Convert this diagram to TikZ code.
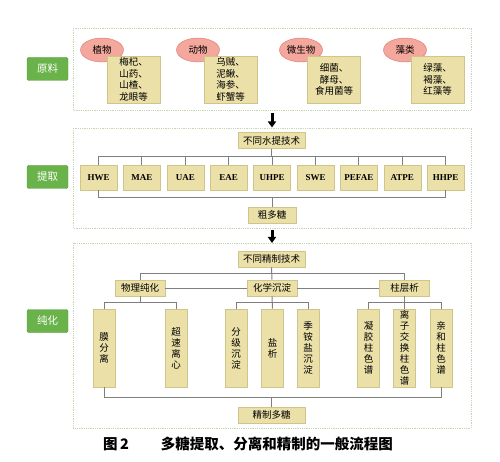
\documentclass[tikz,border=0pt]{standalone}
\usepackage{fontspec}
\setmainfont{Noto Sans CJK SC}
\newfontfamily\latfont{Liberation Serif}
\usetikzlibrary{shapes.geometric}
\usetikzlibrary{arrows.meta}
\definecolor{labgreen}{HTML}{6AB34A}
\definecolor{boxfill}{HTML}{EAE0A8}
\definecolor{boxedge}{HTML}{CFC489}
\definecolor{ovalfill}{HTML}{F4A79C}
\definecolor{ovaledge}{HTML}{D9776A}
\definecolor{framec}{HTML}{C5D6B5}
\definecolor{linec}{HTML}{7F7F7F}

\begin{document}
\begin{tikzpicture}[x=1pt,y=-1pt,
    stage/.style={fill=labgreen, draw=labgreen!85!black, rounded corners=1.5pt, text=white, minimum width=41pt, minimum height=23pt, font=\fontsize{10.5}{12}\selectfont},
    frame/.style={draw=framec, densely dotted, line width=0.8pt},
    ybox/.style={fill=boxfill, draw=boxedge, line width=0.6pt, inner sep=1pt, align=center, font=\fontsize{9.5}{11.5}\selectfont},
    src/.style={ybox, minimum width=53pt, minimum height=47pt},
    tech/.style={ybox, minimum width=37pt, minimum height=25pt, font=\latfont\bfseries\fontsize{9}{10}\selectfont},
    hdr/.style={ybox, minimum width=67pt, minimum height=16pt},
    sub/.style={ybox, minimum width=50pt, minimum height=16pt},
    vbox/.style={ybox, minimum width=22pt, minimum height=78pt, font=\fontsize{9.5}{11}\selectfont},
    oval/.style={ellipse, fill=ovalfill, draw=ovaledge, minimum width=43pt, minimum height=24pt, inner sep=0pt, font=\fontsize{9.5}{11}\selectfont},
    bus/.style={draw=linec, line width=1pt},
    down/.style={-{Triangle[length=6pt,width=8pt]}, line width=3pt}]
  \useasboundingbox (0,0) rectangle (500,462);

  % Raw materials
  \draw[frame] (73,28) rectangle (471,110);
  \node[stage] (raw) at (47.5,69) {原料};
  \node[oval] (plant) at (102,50) {植物};
  \node[oval] (animal) at (198,50) {动物};
  \node[oval] (microbe) at (301,50) {微生物};
  \node[oval] (algae) at (405,50) {藻类};
  \node[src] (plantx) at (133.5,79.5) {梅杞、\\山药、\\山楂、\\龙眼等};
  \node[src] (animalx) at (230.5,79.5) {乌贼、\\泥鳅、\\海参、\\虾蟹等};
  \node[src] (microbex) at (334,79.5) {细菌、\\酵母、\\食用菌等};
  \node[src] (algaex) at (437.5,79.5) {绿藻、\\褐藻、\\红藻等};
  \coordinate (a1) at (272,113);
  \coordinate (a1e) at (272,127.5);
  \draw[down] (a1) -- (a1e);

  % Extraction
  \draw[frame] (73,128) rectangle (471,228);
  \node[stage] (ext) at (47.5,177) {提取};
  \node[hdr] (water) at (271.5,140.5) {不同水提技术};
  \foreach \name [count=\i from 0] in {HWE,MAE,UAE,EAE,UHPE,SWE,PEFAE,ATPE,HHPE}
    \node[tech] (\name) at ({98.5+43.4*\i},177.5) {\name};
  \node[sub, minimum width=48pt] (crude) at (272,215) {粗多糖};
  \coordinate (top2) at (0,157);
  \coordinate (bot2) at (0,198);
  \draw[bus] (HWE.north) -- (HWE.north |- top2) -- (HHPE.north |- top2) -- (HHPE.north);
  \foreach \name in {MAE,UAE,EAE,UHPE,SWE,PEFAE,ATPE}
    \draw[bus] (\name.north) -- (\name.north |- top2);
  \draw[bus] (water.south) -- (water.south |- top2);
  \draw[bus] (HWE.south) -- (HWE.south |- bot2) -- (HHPE.south |- bot2) -- (HHPE.south);
  \draw[bus] (crude.north |- bot2) -- (crude.north);
  \coordinate (a2) at (272,230);
  \coordinate (a2e) at (272,243);
  \draw[down] (a2) -- (a2e);

  % Purification
  \draw[frame] (73,243) rectangle (471,428);
  \node[stage] (pur) at (47.5,321) {纯化};
  \node[hdr] (refine) at (271.5,259) {不同精制技术};
  \node[sub] (phys) at (140,288) {物理纯化};
  \node[sub] (chem) at (272,288) {化学沉淀};
  \node[sub] (col) at (404.5,288) {柱层析};
  \node[vbox] (mem) at (104,348) {膜\\分\\离};
  \node[vbox] (ultra) at (176,348) {超\\速\\离\\心};
  \node[vbox] (frac) at (236,348) {分\\级\\沉\\淀};
  \node[vbox] (salt) at (272.5,348) {盐\\析};
  \node[vbox] (quat) at (308,348) {季\\铵\\盐\\沉\\淀};
  \node[vbox] (gel) at (368.5,348) {凝\\胶\\柱\\色\\谱};
  \node[vbox] (ion) at (404.5,348) {离\\子\\交\\换\\柱\\色\\谱};
  \node[vbox] (aff) at (441,348) {亲\\和\\柱\\色\\谱};
  \node[hdr] (pure) at (271.5,415) {精制多糖};
  \coordinate (top3) at (0,273);
  \coordinate (mid3) at (0,302);
  \coordinate (bot3) at (0,397);
  \draw[bus] (refine.south) -- (chem.north);
  \draw[bus] (phys.north) -- (phys.north |- top3) -- (col.north |- top3) -- (col.north);
  \draw[bus] (phys.east) -- (chem.west);
  \draw[bus] (chem.east) -- (col.west);
  \draw[bus] (phys.south) -- (phys.south |- mid3);
  \draw[bus] (mem.north) -- (mem.north |- mid3) -- (ultra.north |- mid3) -- (ultra.north);
  \draw[bus] (chem.south) -- (salt.north);
  \draw[bus] (frac.north) -- (frac.north |- mid3) -- (quat.north |- mid3) -- (quat.north);
  \draw[bus] (col.south) -- (ion.north);
  \draw[bus] (gel.north) -- (gel.north |- mid3) -- (aff.north |- mid3) -- (aff.north);
  \draw[bus] (mem.south) -- (mem.south |- bot3) -- (aff.south |- bot3) -- (aff.south);
  \draw[bus] (pure.north |- bot3) -- (pure.north);

  % Caption
  \node[font=\bfseries\fontsize{14.5}{16}\selectfont] (cap) at (248,444) {图\,2\hspace{2.2em}多糖提取、分离和精制的一般流程图};
\end{tikzpicture}
\end{document}
